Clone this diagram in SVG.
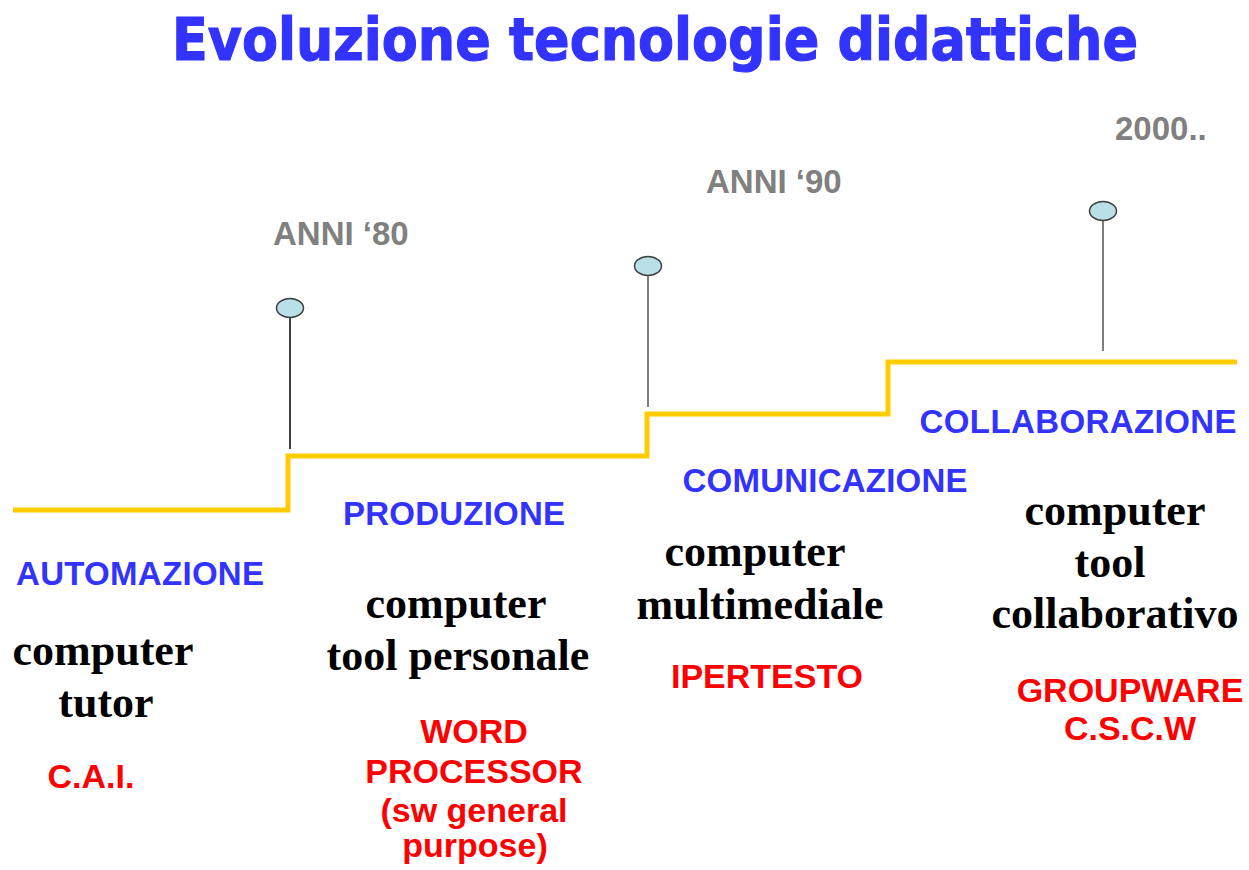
<svg xmlns="http://www.w3.org/2000/svg" width="1249" height="870" viewBox="0 0 1249 870">
<style>
.title{font-family:"DejaVu Sans",Verdana,sans-serif;font-weight:bold;font-size:58px;fill:#3333FF;stroke:#3333FF;stroke-width:1.2}
.era{font-family:"Liberation Sans",Arial,sans-serif;font-weight:bold;font-size:33px;fill:#808080}
.phase{font-family:"Liberation Sans",Arial,sans-serif;font-weight:bold;font-size:33px;fill:#3333FF;text-anchor:middle}
.tool{font-family:"Liberation Serif","Times New Roman",serif;font-weight:bold;font-size:44px;fill:#000;text-anchor:middle}
.ex{font-family:"Liberation Sans",Arial,sans-serif;font-weight:bold;font-size:34px;fill:#FF0000;text-anchor:middle}
.pin{fill:#B8E0E6;stroke:#404040;stroke-width:1.5}
</style>
<rect width="1249" height="870" fill="#fff"/>
<text class="title" x="172" y="60" textLength="966" lengthAdjust="spacingAndGlyphs">Evoluzione tecnologie didattiche</text>
<g id="connectors">
<polyline points="13,510 288,510 288,456 647,456 647,414 888,414 888,362 1237,362" fill="none" stroke="#FFCC00" stroke-width="5"/>
<line x1="290" y1="317" x2="290" y2="449" stroke="#000" stroke-width="1.5"/>
<line x1="648" y1="275" x2="648" y2="407" stroke="#555" stroke-width="1.5"/>
<line x1="1103" y1="220" x2="1103" y2="351" stroke="#555" stroke-width="1.5"/>
</g>
<g id="pin80"><ellipse class="pin" cx="290" cy="308" rx="13.5" ry="9.5"/><text class="era" x="273" y="245">ANNI ‘80</text></g>
<g id="pin90"><ellipse class="pin" cx="648" cy="266" rx="13.5" ry="9.5"/><text class="era" x="706" y="193">ANNI ‘90</text></g>
<g id="pin2000"><ellipse class="pin" cx="1103" cy="211" rx="13.5" ry="9.5"/><text class="era" x="1115" y="140">2000..</text></g>
<g id="automazione">
<text class="phase" x="140" y="585" textLength="248">AUTOMAZIONE</text>
<text class="tool" x="103" y="665">computer</text>
<text class="tool" x="106" y="717">tutor</text>
<text class="ex" x="91" y="788">C.A.I.</text>
</g>
<g id="produzione">
<text class="phase" x="454" y="525" textLength="222">PRODUZIONE</text>
<text class="tool" x="456" y="618">computer</text>
<text class="tool" x="458" y="670">tool personale</text>
<text class="ex" x="474" y="743">WORD</text>
<text class="ex" x="474" y="783">PROCESSOR</text>
<text class="ex" x="474" y="822">(sw general</text>
<text class="ex" x="475" y="857">purpose)</text>
</g>
<g id="comunicazione">
<text class="phase" x="825" y="492" textLength="285">COMUNICAZIONE</text>
<text class="tool" x="755" y="566">computer</text>
<text class="tool" x="760" y="619">multimediale</text>
<text class="ex" x="767" y="688">IPERTESTO</text>
</g>
<g id="collaborazione">
<text class="phase" x="1078" y="433" textLength="317">COLLABORAZIONE</text>
<text class="tool" x="1115" y="525">computer</text>
<text class="tool" x="1110" y="577">tool</text>
<text class="tool" x="1115" y="628">collaborativo</text>
<text class="ex" x="1130" y="702">GROUPWARE</text>
<text class="ex" x="1130" y="740">C.S.C.W</text>
</g>
</svg>
